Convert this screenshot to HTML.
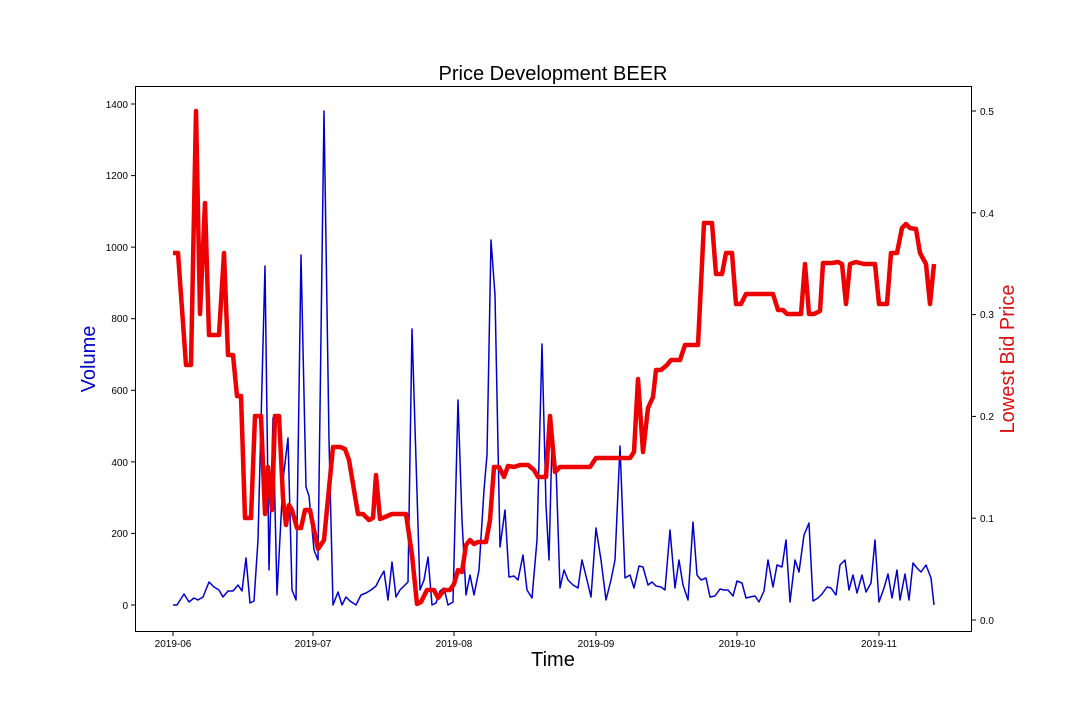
<!DOCTYPE html><html><head><style>body{margin:0;background:#fff}</style></head><body>
<svg width="1080" height="720" xmlns="http://www.w3.org/2000/svg" font-family="Liberation Sans, DejaVu Sans, sans-serif">
<rect width="1080" height="720" fill="#fff"/>
<text x="553" y="80" font-size="20" text-anchor="middle">Price Development BEER</text>
<polyline fill="none" stroke="#0000cc" stroke-width="1.5" stroke-linejoin="round" points="173,605 177,605 184,594 189,602 194,598 198,600 203,597 209,582 214,587 219,590 223,597 228,591 233,591 238,585 242,591 246,558 250,603 254,601 258,540 265,266 269,570 273,418 277,595 283,480 288,438 292,590 296,600 301,255 306,487 309,496 314,550 318,560 324,111 329,440 333,605 338,592 342,605 346,597 350,601 356,605 361,595 366,593 371,590 376,586 380,578 384,571 388,600 392,562 396,597 400,590 405,585 408,582 412,329 416,460 420,590 424,580 428,557 432,605 436,603 440,591 444,588 448,605 453,602 458,400 462,520 466,595 470,575 474,595 479,570 484,490 487,455 491,240 495,295 500,547 505,510 509,577 514,576 518,580 523,555 527,590 532,598 537,540 542,344 546,505 549,560 552,440 556,466 560,588 564,570 568,580 573,585 578,588 582,560 587,580 591,597 596,528 601,560 606,600 611,580 615,560 620,446 625,578 630,575 634,588 639,566 643,567 648,585 652,582 656,586 661,587 665,590 670,530 675,588 679,560 683,585 688,600 693,522 697,575 701,580 706,578 710,597 715,596 720,589 724,590 728,590 733,596 737,581 742,583 746,598 750,597 755,596 759,602 764,591 768,560 773,587 777,565 782,567 786,540 790,602 795,560 799,572 804,535 809,523 813,601 818,598 822,594 827,587 831,588 836,595 840,565 845,560 849,590 853,575 857,593 862,575 866,592 871,583 875,540 879,602 884,588 888,574 892,598 897,570 900,600 905,574 909,600 913,563 917,568 921,572 926,565 931,578 934,605"/>
<polyline fill="none" stroke="#ee0000" stroke-width="4.5" stroke-linejoin="round" points="173,253 178,253 186,365 191,365 196,111 200,314 205,203 209,335 219,335 224,253 228,355 233,355 237,396 241,396 245,518 251,518 255,416 261,416 265,514 268,467 272,510 275,416 279,416 283,498 286,525 289,505 292,510 297,528 301,528 305,510 310,510 314,530 318,549 324,540 333,447 340,447 345,449 349,460 358,514 363,514 369,520 373,518 376,475 380,519 385,517 392,514 406,514 412,555 417,604 421,602 427,590 434,590 438,598 444,590 450,590 454,584 458,570 462,572 466,545 470,540 474,544 478,542 486,542 490,520 494,467 499,467 504,477 508,466 514,467 520,465 528,465 534,470 538,477 546,477 550,416 555,472 560,467 570,467 590,467 596,458 630,458 634,452 638,379 643,452 648,408 653,397 656,370 661,370 667,365 671,360 680,360 685,345 698,345 704,223 712,223 716,274 722,274 726,253 732,253 736,304 741,304 746,294 773,294 778,310 783,310 787,314 801,314 805,264 809,314 814,314 820,311 823,263 832,263 838,262 842,264 846,304 850,264 856,262 864,264 875,264 879,304 887,304 891,253 897,253 902,228 906,224 910,228 916,229 920,253 926,264 930,304 934,264"/>
<rect x="135.5" y="86.5" width="836" height="545" fill="none" stroke="#000" stroke-width="1"/>
<g font-size="10" text-anchor="end">
<g stroke="#000"><line x1="131" x2="135" y1="605" y2="605"/><line x1="131" x2="135" y1="533.4" y2="533.4"/><line x1="131" x2="135" y1="461.9" y2="461.9"/><line x1="131" x2="135" y1="390.3" y2="390.3"/><line x1="131" x2="135" y1="318.7" y2="318.7"/><line x1="131" x2="135" y1="247.1" y2="247.1"/><line x1="131" x2="135" y1="175.6" y2="175.6"/><line x1="131" x2="135" y1="104" y2="104"/></g>
<text x="128" y="609">0</text><text x="128" y="537">200</text><text x="128" y="466">400</text><text x="128" y="394">600</text><text x="128" y="322">800</text><text x="128" y="251">1000</text><text x="128" y="179">1200</text><text x="128" y="108">1400</text>
</g>
<g font-size="10">
<g stroke="#000"><line x1="972" x2="976" y1="620" y2="620"/><line x1="972" x2="976" y1="518.2" y2="518.2"/><line x1="972" x2="976" y1="416.4" y2="416.4"/><line x1="972" x2="976" y1="314.6" y2="314.6"/><line x1="972" x2="976" y1="212.8" y2="212.8"/><line x1="972" x2="976" y1="111" y2="111"/></g>
<text x="980" y="624">0.0</text><text x="980" y="522">0.1</text><text x="980" y="420">0.2</text><text x="980" y="318">0.3</text><text x="980" y="217">0.4</text><text x="980" y="115">0.5</text>
</g>
<g font-size="10" text-anchor="middle">
<g stroke="#000"><line x1="173" x2="173" y1="632" y2="636"/><line x1="313" x2="313" y1="632" y2="636"/><line x1="454" x2="454" y1="632" y2="636"/><line x1="596" x2="596" y1="632" y2="636"/><line x1="737" x2="737" y1="632" y2="636"/><line x1="879" x2="879" y1="632" y2="636"/></g>
<text x="173" y="647">2019-06</text><text x="313" y="647">2019-07</text><text x="454" y="647">2019-08</text><text x="596" y="647">2019-09</text><text x="737" y="647">2019-10</text><text x="879" y="647">2019-11</text>
</g>
<text x="553" y="666" font-size="20" text-anchor="middle">Time</text>
<text transform="translate(95,359) rotate(-90)" font-size="20" fill="#0000cc" text-anchor="middle">Volume</text>
<text transform="translate(1014,359) rotate(-90)" font-size="20" fill="#dd1111" text-anchor="middle">Lowest Bid Price</text>
</svg>
</body></html>
